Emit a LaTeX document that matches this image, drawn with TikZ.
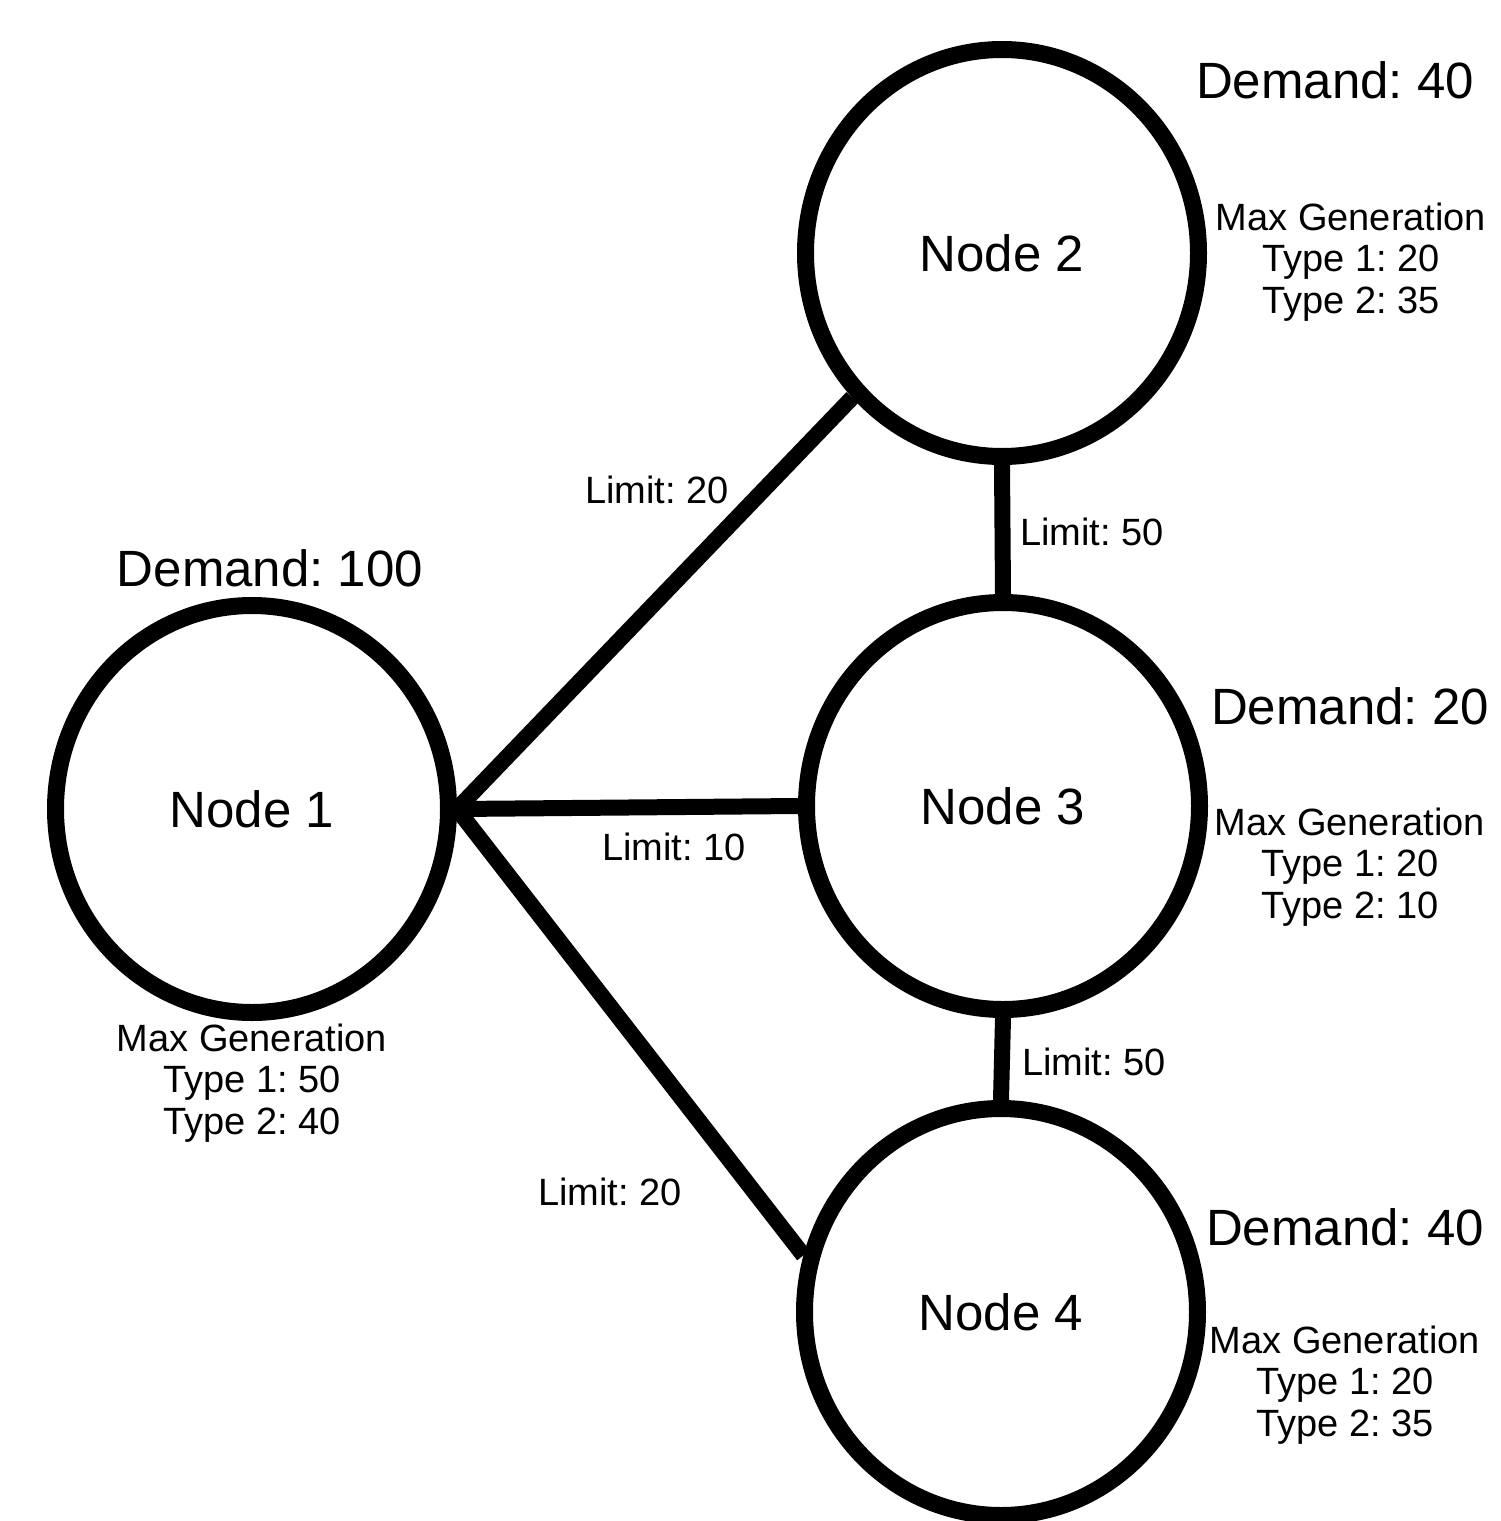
\documentclass[tikz,border=0pt]{standalone}
\usepackage{fontspec}
\setmainfont{Liberation Sans}
\usetikzlibrary{shapes.geometric}
\frenchspacing
\begin{document}
\begin{tikzpicture}[x=1pt,y=-1pt,
  bus/.style={draw=black, line width=17pt, ellipse, inner sep=0pt,
    minimum width=393pt, minimum height=407pt,
    font=\fontsize{51}{60}\selectfont},
  link/.style={draw=black, line width=16pt},
  big/.style={inner sep=0pt, anchor=base, font=\fontsize{51}{60}\selectfont},
  small/.style={inner sep=0pt, anchor=base, align=center, font=\fontsize{38}{41.5}\selectfont}]
\useasboundingbox[fill=white] (0,0) rectangle (1500,1521);
% nodes
\node[bus] (n1) at (252,809) {\raisebox{-4pt}{Node 1}};
\node[bus] (n2) at (1002,253) {\raisebox{-3pt}{Node 2}};
\node[bus] (n3) at (1003,806) {\raisebox{-4pt}{Node 3}};
\node[bus] (n4) at (1001,1312) {\raisebox{-6pt}{Node 4}};
% connectors
\draw[link] (n1.east) -- (n2.224);
\draw[link] (n1.east) -- (n3.west);
\draw[link] (n1.east) -- (n4.164);
\draw[link] (n2.south) -- (n3.north);
\draw[link] (n3.south) -- (n4.north);
% edge labels
\node[small] (l12) at (657,503) {Limit: 20};
\node[small] (l13) at (674,860) {Limit: 10};
\node[small] (l14) at (610,1205) {Limit: 20};
\node[small] (l23) at (1092,545) {Limit: 50};
\node[small] (l34) at (1094,1075) {Limit: 50};
% demands
\node[big] (d1) at (270,586) {Demand: 100};
\node[big] (d2) at (1335,98) {Demand: 40};
\node[big] (d3) at (1350,724) {Demand: 20};
\node[big] (d4) at (1345,1245) {Demand: 40};
% generation (base = last line)
\node[small] (g1) at (252,1134) {Max Generation\\Type 1: 50\\Type 2: 40};
\node[small] (g2) at (1351,313) {Max Generation\\Type 1: 20\\Type 2: 35};
\node[small] (g3) at (1350,918) {Max Generation\\Type 1: 20\\Type 2: 10};
\node[small] (g4) at (1345,1436) {Max Generation\\Type 1: 20\\Type 2: 35};
\end{tikzpicture}
\end{document}
